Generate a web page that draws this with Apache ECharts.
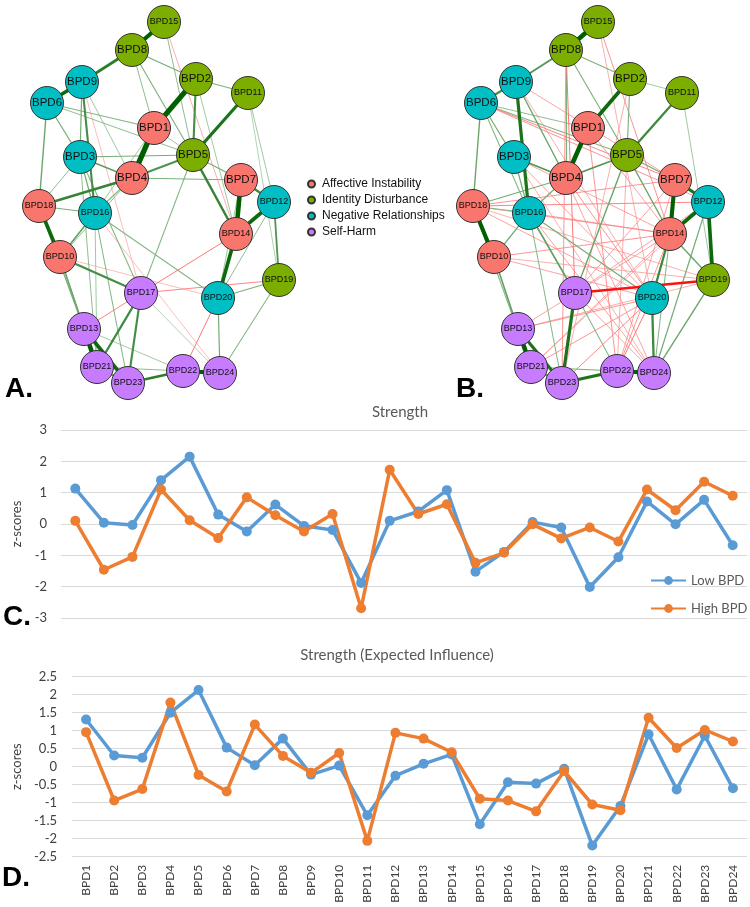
<!DOCTYPE html>
<html>
<head>
<meta charset="utf-8">
<script src="https://cdn.jsdelivr.net/npm/echarts@6/dist/echarts.min.js"></script>
<style>
html, body { margin: 0; padding: 0; background: #fff; }
#chart { width: 750px; height: 907px; }
</style>
</head>
<body>
<div id="chart"></div>
<script>
// categories / items
const categories = ['BPD1', 'BPD2', 'BPD3', 'BPD4', 'BPD5', 'BPD6', 'BPD7', 'BPD8', 'BPD9', 'BPD10', 'BPD11', 'BPD12',
    'BPD13', 'BPD14', 'BPD15', 'BPD16', 'BPD17', 'BPD18', 'BPD19', 'BPD20', 'BPD21', 'BPD22', 'BPD23', 'BPD24']

// C. Strength (z-scores)
const strengthLow = [1.13, 0.04, -0.03, 1.40, 2.15, 0.30, -0.24, 0.62, -0.06, -0.19, -1.88, 0.10,
    0.40, 1.08, -1.52, -0.89, 0.06, -0.11, -2.01, -1.06, 0.72, -0.01, 0.77, -0.68]
const strengthHigh = [0.10, -1.46, -1.05, 1.10, 0.12, -0.45, 0.85, 0.28, -0.24, 0.32, -2.69, 1.73,
    0.32, 0.63, -1.24, -0.92, -0.01, -0.46, -0.11, -0.56, 1.10, 0.44, 1.35, 0.90]

// D. Strength (Expected Influence)
const influenceLow = [1.31, 0.31, 0.25, 1.50, 2.13, 0.53, 0.04, 0.78, -0.22, 0.03, -1.35, -0.25,
    0.08, 0.34, -1.60, -0.43, -0.47, -0.06, -2.19, -1.09, 0.90, -0.63, 0.86, -0.60]
const influenceHigh = [0.96, -0.94, -0.62, 1.78, -0.23, -0.69, 1.17, 0.30, -0.17, 0.38, -2.06, 0.94,
    0.78, 0.40, -0.89, -0.94, -1.24, -0.12, -1.05, -1.21, 1.36, 0.52, 1.02, 0.70]

// network: groups and layout
const groupNames = ['Affective Instability', 'Identity Disturbance', 'Negative Relationships', 'Self-Harm']
const nodeGroup = [0, 1, 2, 0, 1, 2, 0, 1, 2, 0, 1, 2, 3, 0, 1, 2, 3, 0, 1, 2, 3, 3, 3, 3]
const nodeX = [154, 196, 80, 132, 193, 47, 241, 132, 82, 60, 248, 274, 84, 236, 164, 95, 141, 39, 279, 218, 97, 183, 128, 220]
const nodeY = [128, 79, 157, 178, 155, 103, 180, 50, 82, 257, 93, 202, 329, 234, 22, 213, 293, 206, 280, 298, 367, 371, 383, 373]

// A. edges [from, to, weight]
const edgesA = [
    ['BPD15', 'BPD8', 0.4], ['BPD8', 'BPD9', 0.25], ['BPD9', 'BPD6', 0.35], ['BPD2', 'BPD1', 0.5],
    ['BPD1', 'BPD4', 0.55], ['BPD11', 'BPD5', 0.3], ['BPD2', 'BPD5', 0.18], ['BPD5', 'BPD4', 0.16],
    ['BPD4', 'BPD18', 0.22], ['BPD5', 'BPD14', 0.22], ['BPD7', 'BPD14', 0.45], ['BPD7', 'BPD12', 0.2],
    ['BPD12', 'BPD14', 0.35], ['BPD12', 'BPD19', 0.15], ['BPD14', 'BPD20', 0.35], ['BPD18', 'BPD10', 0.35],
    ['BPD10', 'BPD17', 0.18], ['BPD9', 'BPD16', 0.18], ['BPD6', 'BPD18', 0.1], ['BPD3', 'BPD4', 0.12],
    ['BPD3', 'BPD5', 0.08], ['BPD16', 'BPD10', 0.12], ['BPD18', 'BPD16', 0.08], ['BPD17', 'BPD21', 0.2],
    ['BPD17', 'BPD23', 0.18], ['BPD13', 'BPD21', 0.45], ['BPD13', 'BPD23', 0.35], ['BPD21', 'BPD23', 0.15],
    ['BPD23', 'BPD22', 0.25], ['BPD22', 'BPD24', 0.4], ['BPD20', 'BPD24', 0.08], ['BPD20', 'BPD19', 0.07],
    ['BPD10', 'BPD21', 0.1], ['BPD7', 'BPD4', 0.07], ['BPD5', 'BPD7', 0.08], ['BPD2', 'BPD11', 0.07],
    ['BPD8', 'BPD2', 0.08], ['BPD8', 'BPD5', 0.07], ['BPD6', 'BPD3', 0.08], ['BPD6', 'BPD1', 0.06],
    ['BPD3', 'BPD16', 0.08], ['BPD4', 'BPD16', 0.06], ['BPD9', 'BPD3', 0.08], ['BPD8', 'BPD1', 0.05],
    ['BPD15', 'BPD5', 0.05], ['BPD16', 'BPD20', 0.06], ['BPD18', 'BPD13', 0.08], ['BPD10', 'BPD13', 0.08],
    ['BPD16', 'BPD23', 0.06], ['BPD3', 'BPD21', 0.05], ['BPD3', 'BPD17', 0.06], ['BPD1', 'BPD16', 0.04],
    ['BPD5', 'BPD17', 0.06], ['BPD6', 'BPD5', 0.05], ['BPD2', 'BPD14', 0.04], ['BPD11', 'BPD12', 0.04],
    ['BPD11', 'BPD19', 0.03], ['BPD19', 'BPD24', 0.06], ['BPD13', 'BPD22', 0.04], ['BPD21', 'BPD22', 0.05],
    ['BPD16', 'BPD21', 0.04], ['BPD17', 'BPD24', 0.03], ['BPD4', 'BPD10', 0.05], ['BPD18', 'BPD3', 0.05],
    ['BPD9', 'BPD4', 0.04], ['BPD1', 'BPD5', 0.04], ['BPD12', 'BPD20', 0.05], ['BPD7', 'BPD20', 0.04],
    ['BPD14', 'BPD17', -0.08], ['BPD17', 'BPD19', -0.07], ['BPD17', 'BPD13', -0.07], ['BPD20', 'BPD22', -0.08],
    ['BPD15', 'BPD14', -0.04], ['BPD10', 'BPD20', -0.03], ['BPD16', 'BPD24', -0.03], ['BPD9', 'BPD17', -0.03],
]

// B. edges [from, to, weight]
const edgesB = [
    ['BPD15', 'BPD8', 0.45], ['BPD8', 'BPD9', 0.15], ['BPD9', 'BPD6', 0.18], ['BPD2', 'BPD1', 0.35],
    ['BPD1', 'BPD4', 0.45], ['BPD11', 'BPD5', 0.2], ['BPD5', 'BPD4', 0.15], ['BPD3', 'BPD4', 0.15],
    ['BPD9', 'BPD16', 0.3], ['BPD6', 'BPD18', 0.1], ['BPD18', 'BPD10', 0.4], ['BPD7', 'BPD12', 0.3],
    ['BPD7', 'BPD14', 0.4], ['BPD12', 'BPD14', 0.35], ['BPD12', 'BPD19', 0.35], ['BPD14', 'BPD20', 0.2],
    ['BPD5', 'BPD14', 0.1], ['BPD17', 'BPD23', 0.3], ['BPD13', 'BPD21', 0.45], ['BPD13', 'BPD23', 0.3],
    ['BPD21', 'BPD23', 0.15], ['BPD23', 'BPD22', 0.3], ['BPD22', 'BPD24', 0.4], ['BPD20', 'BPD24', 0.2],
    ['BPD19', 'BPD24', 0.1], ['BPD10', 'BPD13', 0.12], ['BPD16', 'BPD17', 0.12], ['BPD16', 'BPD20', 0.08],
    ['BPD4', 'BPD16', 0.08], ['BPD4', 'BPD18', 0.08], ['BPD6', 'BPD3', 0.08], ['BPD8', 'BPD2', 0.07],
    ['BPD8', 'BPD5', 0.07], ['BPD8', 'BPD4', 0.07], ['BPD9', 'BPD4', 0.1], ['BPD3', 'BPD16', 0.08],
    ['BPD6', 'BPD16', 0.06], ['BPD14', 'BPD19', 0.1], ['BPD12', 'BPD24', 0.08], ['BPD14', 'BPD24', 0.06],
    ['BPD17', 'BPD22', 0.06], ['BPD21', 'BPD22', 0.08], ['BPD5', 'BPD7', 0.08], ['BPD5', 'BPD17', 0.1],
    ['BPD10', 'BPD16', 0.08], ['BPD18', 'BPD16', 0.06], ['BPD2', 'BPD5', 0.07], ['BPD2', 'BPD11', 0.04],
    ['BPD11', 'BPD19', 0.04], ['BPD18', 'BPD21', 0.06], ['BPD16', 'BPD23', 0.06], ['BPD6', 'BPD5', 0.06],
    ['BPD6', 'BPD1', 0.05],
    ['BPD17', 'BPD19', -0.3], ['BPD8', 'BPD17', -0.08], ['BPD8', 'BPD23', -0.06], ['BPD6', 'BPD7', -0.07],
    ['BPD6', 'BPD12', -0.06], ['BPD9', 'BPD7', -0.05], ['BPD18', 'BPD12', -0.07], ['BPD18', 'BPD7', -0.06],
    ['BPD18', 'BPD14', -0.05], ['BPD16', 'BPD14', -0.06], ['BPD10', 'BPD14', -0.06], ['BPD10', 'BPD20', -0.05],
    ['BPD10', 'BPD19', -0.04], ['BPD4', 'BPD20', -0.06], ['BPD4', 'BPD24', -0.05], ['BPD1', 'BPD22', -0.06],
    ['BPD1', 'BPD14', -0.05], ['BPD15', 'BPD14', -0.06], ['BPD15', 'BPD20', -0.04], ['BPD3', 'BPD14', -0.05],
    ['BPD3', 'BPD20', -0.05], ['BPD13', 'BPD20', -0.06], ['BPD13', 'BPD14', -0.05], ['BPD21', 'BPD14', -0.05],
    ['BPD21', 'BPD20', -0.06], ['BPD23', 'BPD20', -0.07], ['BPD22', 'BPD20', -0.08], ['BPD22', 'BPD14', -0.06],
    ['BPD24', 'BPD17', -0.05], ['BPD24', 'BPD16', -0.05], ['BPD17', 'BPD12', -0.05], ['BPD17', 'BPD7', -0.05],
    ['BPD13', 'BPD19', -0.04], ['BPD5', 'BPD22', -0.04], ['BPD2', 'BPD23', -0.04], ['BPD9', 'BPD20', -0.04],
    ['BPD18', 'BPD20', -0.05], ['BPD18', 'BPD19', -0.04], ['BPD3', 'BPD24', -0.04], ['BPD7', 'BPD22', -0.05],
    ['BPD12', 'BPD21', -0.04],
]

const GROUP_COLORS = ['#F8766D', '#7CAE00', '#00BFC4', '#C77CFF']
const BLUE = '#5B9BD5'
const ORANGE = '#ED7D31'

const chart = echarts.init(document.getElementById('chart'))

function mix(a, b, t) {
    const pa = [1, 3, 5].map((i) => parseInt(a.substr(i, 2), 16))
    const pb = [1, 3, 5].map((i) => parseInt(b.substr(i, 2), 16))
    const c = pa.map((v, i) => Math.round(v + (pb[i] - v) * t))
    return `rgb(${c[0]},${c[1]},${c[2]})`
}

// 边的颜色和粗细按权重
function edgeStyle(w) {
    const a = Math.abs(w)
    if (w > 0) {
        return { color: mix('#d4ecd4', '#006000', Math.min(1, Math.sqrt(a / 0.4))), width: 0.5 + a * 9, opacity: 1 }
    }
    return { color: mix('#f8dede', '#ff0000', Math.min(1, Math.sqrt(a / 0.35))), width: 0.5 + a * 6, opacity: 1 }
}

const minX = Math.min(...nodeX)
const maxX = Math.max(...nodeX)
const minY = Math.min(...nodeY)
const maxY = Math.max(...nodeY)

function makeGraph(edges, offsetX) {
    const nodes = categories.map((name, i) => ({
        name: name,
        x: nodeX[i],
        y: nodeY[i],
        category: nodeGroup[i],
        label: { fontSize: name.length > 4 ? 9 : 11.5 },
    }))
    const links = edges
        .slice()
        .sort((p, q) => Math.abs(p[2]) - Math.abs(q[2]))
        .map((e) => ({ source: e[0], target: e[1], value: e[2], lineStyle: edgeStyle(e[2]) }))
    return {
        type: 'graph',
        layout: 'none',
        silent: true,
        left: minX + offsetX,
        top: minY,
        width: maxX - minX,
        height: maxY - minY,
        symbolSize: 33,
        roam: false,
        categories: groupNames.map((name, i) => ({
            name: name,
            itemStyle: { color: GROUP_COLORS[i], borderColor: '#333', borderWidth: 1 },
        })),
        label: {
            show: true,
            position: 'inside',
            color: '#111',
            fontFamily: 'Liberation Sans',
        },
        lineStyle: { curveness: 0 },
        emphasis: { disabled: true },
        data: nodes,
        links: links,
    }
}

const panelLabel = (text, left, top) => ({
    text: text,
    left: left,
    top: top,
    padding: 0,
    textStyle: { fontFamily: 'Liberation Sans', fontSize: 28, fontWeight: 'bold', color: '#000' },
})

const option = {
    animation: false,
    backgroundColor: '#fff',
    textStyle: { fontFamily: 'Lato' },
    title: [
        { text: 'Strength', left: 400, top: 405, textAlign: 'center', padding: 0,
            textStyle: { fontFamily: 'Lato', fontSize: 15, fontWeight: 'normal', color: '#595959' } },
        { text: 'Strength (Expected Influence)', left: 397, top: 648, textAlign: 'center', padding: 0,
            textStyle: { fontFamily: 'Lato', fontSize: 15, fontWeight: 'normal', color: '#595959' } },
        panelLabel('A.', 5, 375),
        panelLabel('B.', 456, 375),
        panelLabel('C.', 3, 603),
        panelLabel('D.', 2, 864),
    ],
    legend: [
        {
            data: groupNames,
            orient: 'vertical',
            left: 302,
            top: 173,
            itemGap: 4,
            itemWidth: 7,
            itemHeight: 7,
            icon: 'circle',
            selectedMode: false,
            textStyle: { fontFamily: 'Liberation Sans', fontSize: 12, color: '#111', padding: [0, 0, 0, 2] },
        },
        {
            data: ['Low BPD', 'High BPD'],
            orient: 'vertical',
            left: 645,
            top: 569,
            itemGap: 15,
            itemWidth: 35,
            itemHeight: 11,
            selectedMode: false,
            textStyle: { fontFamily: 'Lato', fontSize: 13, color: '#595959' },
        },
    ],
    grid: [
        { left: 61, top: 430, width: 686, height: 188 },
        { left: 72, top: 676.7, width: 675, height: 180 },
    ],
    xAxis: [
        {
            type: 'category',
            gridIndex: 0,
            data: categories,
            boundaryGap: true,
            axisLine: { show: false },
            axisTick: { show: false },
            axisLabel: { show: false },
        },
        {
            type: 'category',
            gridIndex: 1,
            data: categories,
            boundaryGap: true,
            axisLine: { show: false },
            axisTick: { show: false },
            axisLabel: { rotate: 90, interval: 0, margin: 8, fontFamily: 'Lato', fontSize: 12, color: '#404040' },
        },
    ],
    yAxis: [
        {
            type: 'value',
            gridIndex: 0,
            min: -3,
            max: 3,
            interval: 1,
            name: 'z-scores',
            nameLocation: 'middle',
            nameGap: 34,
            nameTextStyle: { fontFamily: 'Lato', fontSize: 13, color: '#404040' },
            axisLine: { show: false },
            axisTick: { show: false },
            axisLabel: { margin: 14, fontFamily: 'Lato', fontSize: 13, color: '#404040' },
            splitLine: { lineStyle: { color: '#D9D9D9', width: 1 } },
        },
        {
            type: 'value',
            gridIndex: 1,
            min: -2.5,
            max: 2.5,
            interval: 0.5,
            name: 'z-scores',
            nameLocation: 'middle',
            nameGap: 45,
            nameTextStyle: { fontFamily: 'Lato', fontSize: 13, color: '#404040' },
            axisLine: { show: false },
            axisTick: { show: false },
            axisLabel: { margin: 15, fontFamily: 'Lato', fontSize: 13, color: '#404040' },
            splitLine: { lineStyle: { color: '#D9D9D9', width: 1 } },
        },
    ],
    series: [
        makeGraph(edgesA, 0),
        makeGraph(edgesB, 434),
        {
            name: 'Low BPD', type: 'line', xAxisIndex: 0, yAxisIndex: 0, data: strengthLow,
            symbol: 'circle', symbolSize: 10, lineStyle: { width: 3.5, color: BLUE }, itemStyle: { color: BLUE },
        },
        {
            name: 'High BPD', type: 'line', xAxisIndex: 0, yAxisIndex: 0, data: strengthHigh,
            symbol: 'circle', symbolSize: 10, lineStyle: { width: 3.5, color: ORANGE }, itemStyle: { color: ORANGE },
        },
        {
            name: 'Low BPD', type: 'line', xAxisIndex: 1, yAxisIndex: 1, data: influenceLow,
            symbol: 'circle', symbolSize: 10, lineStyle: { width: 3.5, color: BLUE }, itemStyle: { color: BLUE },
        },
        {
            name: 'High BPD', type: 'line', xAxisIndex: 1, yAxisIndex: 1, data: influenceHigh,
            symbol: 'circle', symbolSize: 10, lineStyle: { width: 3.5, color: ORANGE }, itemStyle: { color: ORANGE },
        },
    ],
}

chart.setOption(option)
</script>
</body>
</html>
